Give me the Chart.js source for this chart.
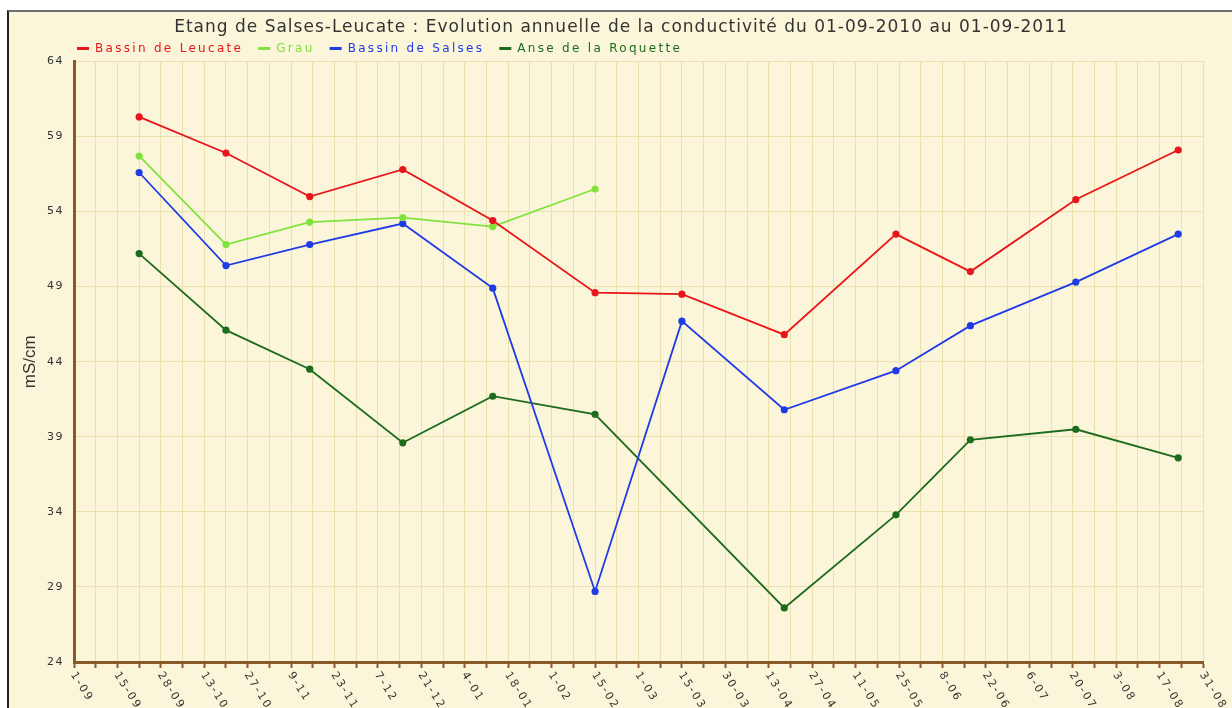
<!DOCTYPE html>
<html>
<head>
<meta charset="utf-8">
<script src="https://cdn.jsdelivr.net/npm/chart.js@4.4.1/dist/chart.umd.min.js"></script>
<style>
  html, body { margin: 0; padding: 0; overflow: hidden; background: #fff; }
  #box { position: absolute; left: 7px; top: 10px; border-left: 2px solid #222; border-top: 2px solid #6e6e6e; background: #fbf6d9; }
  canvas { display: block; }
</style>
</head>
<body>
<div id="box"><canvas id="chart" width="1224" height="720"></canvas></div>
<script>
// dates des prélèvements et conductivité (mS/cm) par station
const sampleDates = ['2010-09-22', '2010-10-20', '2010-11-16', '2010-12-16', '2011-01-14', '2011-02-16',
                     '2011-03-16', '2011-04-18', '2011-05-24', '2011-06-17', '2011-07-21', '2011-08-23'];
const bassinLeucate = [60.3, 57.9, 55.0, 56.8, 53.4, 48.6, 48.5, 45.8, 52.5, 50.0, 54.8, 58.1];
const grau = [57.7, 51.8, 53.3, 53.6, 53.0, 55.5, null, null, null, null, null, null];
const bassinSalses = [56.6, 50.4, 51.8, 53.2, 48.9, 28.7, 46.7, 40.8, 43.4, 46.4, 49.3, 52.5];
const anseRoquette = [51.2, 46.1, 43.5, 38.6, 41.7, 40.5, null, 27.6, 33.8, 38.8, 39.5, 37.6];

const xTickLabels = ['1-09', '15-09', '28-09', '13-10', '27-10', '9-11', '23-11', '7-12', '21-12', '4-01',
                     '18-01', '1-02', '15-02', '1-03', '15-03', '30-03', '13-04', '27-04', '11-05', '25-05',
                     '8-06', '22-06', '6-07', '20-07', '3-08', '17-08', '31-08'];
const yTicks = [24, 29, 34, 39, 44, 49, 54, 59, 64];

const startDay = Date.parse('2010-09-01');
const lastDay = (Date.parse('2011-08-31') - startDay) / 86400000;
const labelStep = lastDay / (xTickLabels.length - 1);

const axisColor = '#8b5a2b';
const gridColor = '#ece0b0';

function toPoints(values) {
    return sampleDates
        .map((d, i) => ({ x: (Date.parse(d) - startDay) / 86400000, y: values[i] }))
        .filter(p => p.y !== null);
}

function serie(label, values, color) {
    return {
        label: label,
        data: toPoints(values),
        borderColor: color,
        backgroundColor: color,
        pointBackgroundColor: color,
        borderWidth: 1.8,
        pointRadius: 3.6,
        pointBorderWidth: 0,
        tension: 0
    };
}

// espacement des lettres comme sur l'original
function spaced(obj, method, spacing, dx) {
    const orig = obj[method];
    obj[method] = function() {
        const ctx = this.ctx;
        ctx.save();
        ctx.letterSpacing = spacing;
        if (dx) ctx.translate(dx, 0);
        const r = orig.apply(this, arguments);
        ctx.restore();
        return r;
    };
}

const spacingPlugin = {
    id: 'spacing',
    beforeLayout(chart) {
        if (chart.$spaced) return;
        chart.$spaced = true;
        const lg = chart.legend;
        const fit = lg.fit;
        lg.fit = function() {
            this.ctx.save();
            this.ctx.letterSpacing = '2.3px';
            fit.apply(this, arguments);
            this.ctx.restore();
            this.height = 20;
        };
        const draw = lg.draw;
        lg.draw = function() {
            const ctx = this.ctx;
            const top = this.top;
            ctx.save();
            ctx.letterSpacing = '2.3px';
            ctx.translate(53, 0);
            this.top = top - 14;
            draw.apply(this, arguments);
            this.top = top;
            ctx.restore();
        };
        spaced(chart.titleBlock, 'draw', '1px', 15);
        spaced(chart.scales.y, 'drawLabels', '1.5px');
    }
};

const xLabelPlugin = {
    id: 'xLabels',
    afterDraw(chart) {
        const ctx = chart.ctx;
        const x = chart.scales.x;
        ctx.save();
        ctx.font = '11px "DejaVu Sans"';
        ctx.fillStyle = '#333';
        ctx.letterSpacing = '2px';
        ctx.textAlign = 'left';
        ctx.textBaseline = 'middle';
        xTickLabels.forEach((label, i) => {
            const px = x.getPixelForValue(i * labelStep);
            ctx.save();
            ctx.translate(px - 1, x.top + 11);
            ctx.rotate(58 * Math.PI / 180);
            ctx.fillText(label, 0, 0);
            ctx.restore();
        });
        ctx.restore();
    }
};

const chart = new Chart(document.getElementById('chart'), {
    type: 'line',
    data: {
        datasets: [
            serie('Bassin de Leucate', bassinLeucate, '#e8151b'),
            serie('Grau', grau, '#80e23c'),
            serie('Bassin de Salses', bassinSalses, '#1f3be6'),
            serie('Anse de la Roquette', anseRoquette, '#1d6b1d')
        ]
    },
    options: {
        responsive: false,
        animation: false,
        devicePixelRatio: 1,
        layout: { padding: { left: 0, right: 30, top: 0, bottom: 64 } },
        plugins: {
            title: {
                display: true,
                text: 'Etang de Salses-Leucate : Evolution annuelle de la conductivité du 01-09-2010 au 01-09-2011',
                color: '#333',
                font: { family: 'DejaVu Sans', size: 17, weight: 'normal' },
                padding: { top: 5, bottom: 4 }
            },
            legend: {
                align: 'start',
                labels: {
                    usePointStyle: true,
                    pointStyle: 'line',
                    pointStyleWidth: 12,
                    padding: 15,
                    font: { family: 'DejaVu Sans', size: 12 },
                    generateLabels(chart) {
                        const items = Chart.defaults.plugins.legend.labels.generateLabels(chart);
                        items.forEach(it => {
                            it.fontColor = it.strokeStyle;
                            it.lineWidth = 3;
                        });
                        return items;
                    }
                }
            },
            tooltip: { enabled: false }
        },
        scales: {
            x: {
                type: 'linear',
                min: 0,
                max: lastDay,
                afterBuildTicks(scale) {
                    const ticks = [];
                    for (let i = 0; i <= (xTickLabels.length - 1) * 2; i++) {
                        ticks.push({ value: i * labelStep / 2 });
                    }
                    scale.ticks = ticks;
                },
                ticks: { display: false },
                grid: { color: gridColor, lineWidth: 1, tickColor: axisColor, tickLength: 6, tickWidth: 2 },
                border: { color: axisColor, width: 3 }
            },
            y: {
                min: 24,
                max: 64,
                afterBuildTicks(scale) {
                    scale.ticks = yTicks.map(v => ({ value: v }));
                },
                afterFit(scale) {
                    scale.width = 65;
                },
                ticks: { color: '#333', padding: 10, font: { family: 'DejaVu Sans', size: 11 } },
                grid: { color: gridColor, lineWidth: 1, drawTicks: false },
                border: { color: axisColor, width: 3 },
                title: {
                    display: true,
                    text: 'mS/cm',
                    color: '#333',
                    font: { family: 'Liberation Sans', size: 17 },
                    padding: { top: 11, bottom: 0 }
                }
            }
        }
    },
    plugins: [spacingPlugin, xLabelPlugin]
});
</script>
</body>
</html>
